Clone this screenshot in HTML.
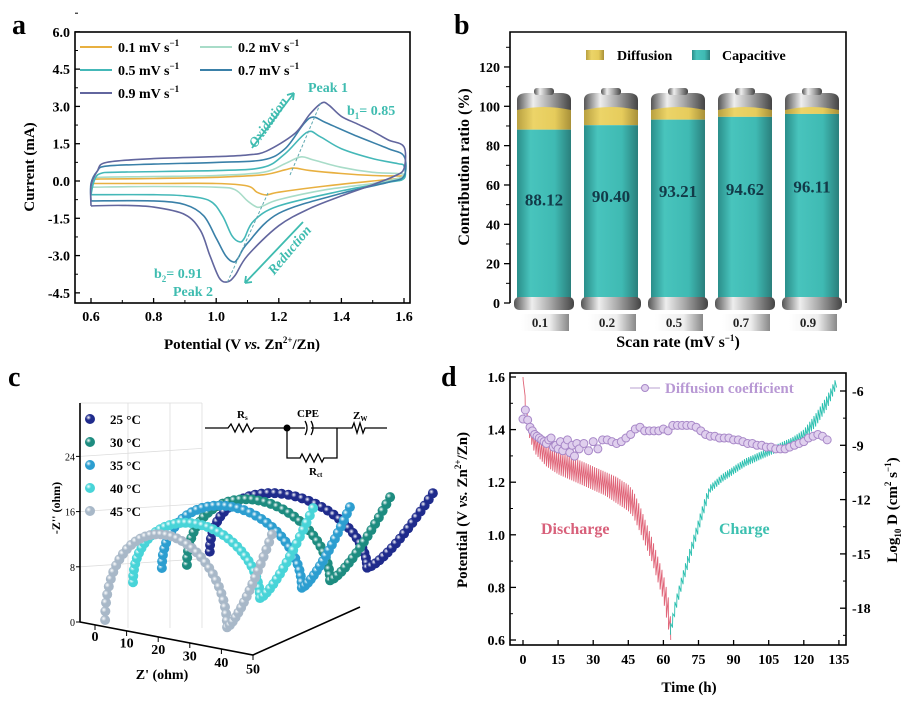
<!DOCTYPE html>
<html><head><meta charset="utf-8">
<style>
html,body{margin:0;padding:0;background:#fff;}
svg{display:block;font-family:"Liberation Serif",serif;font-weight:bold;}
</style></head>
<body>
<svg id="fig" width="912" height="706" viewBox="0 0 912 706" xmlns="http://www.w3.org/2000/svg">
<defs>
<linearGradient id="gTeal" x1="0" x2="1"><stop offset="0" stop-color="#2a8e8a"/><stop offset="0.25" stop-color="#48c4bd"/><stop offset="0.7" stop-color="#3fbab3"/><stop offset="1" stop-color="#2a7f7c"/></linearGradient>
<linearGradient id="gYel" x1="0" x2="1"><stop offset="0" stop-color="#b8a040"/><stop offset="0.3" stop-color="#ecd468"/><stop offset="0.7" stop-color="#e6cc5c"/><stop offset="1" stop-color="#a89038"/></linearGradient>
<linearGradient id="gMetal" x1="0" x2="1"><stop offset="0" stop-color="#555"/><stop offset="0.3" stop-color="#eee"/><stop offset="0.6" stop-color="#aaa"/><stop offset="1" stop-color="#444"/></linearGradient>
<linearGradient id="gLab" x1="0" x2="1"><stop offset="0" stop-color="#fff"/><stop offset="0.6" stop-color="#eee"/><stop offset="1" stop-color="#888"/></linearGradient>
</defs>
</svg>
<script>
const NS='http://www.w3.org/2000/svg';
const svg=document.getElementById('fig');
function mk(tag,attrs,parent){const e=document.createElementNS(NS,tag);for(const k in attrs)e.setAttribute(k,attrs[k]);(parent||svg).appendChild(e);return e;}
function tx(x,y,s,attrs){const e=mk('text',Object.assign({x:x,y:y},attrs||{}));e.innerHTML=s;return e;}
function smooth(pts){let d='M'+pts[0][0].toFixed(1)+','+pts[0][1].toFixed(1);for(let i=0;i<pts.length-1;i++){const p0=pts[Math.max(i-1,0)],p1=pts[i],p2=pts[i+1],p3=pts[Math.min(i+2,pts.length-1)];const c1=[p1[0]+(p2[0]-p0[0])/6,p1[1]+(p2[1]-p0[1])/6],c2=[p2[0]-(p3[0]-p1[0])/6,p2[1]-(p3[1]-p1[1])/6];d+='C'+c1[0].toFixed(1)+','+c1[1].toFixed(1)+' '+c2[0].toFixed(1)+','+c2[1].toFixed(1)+' '+p2[0].toFixed(1)+','+p2[1].toFixed(1);}return d;}

// ================= PANEL A data =================
const cvLabels=['0.1','0.2','0.5','0.7','0.9'];
const cvColors=['#e8b040','#a8dcc8','#44b8b8','#3a80a8','#62669e'];
const cv01=[[0.6,-0.1],[0.61,0.05],[0.63,0.08],[0.8,0.1],[1.0,0.15],[1.15,0.25],[1.22,0.45],[1.25,0.52],[1.3,0.42],[1.4,0.3],[1.5,0.22],[1.58,0.2],[1.6,0.18],[1.58,0.1],[1.5,0.0],[1.35,-0.2],[1.2,-0.45],[1.16,-0.56],[1.13,-0.45],[1.1,-0.2],[1.0,-0.1],[0.8,-0.1],[0.6,-0.1]];
const cv02=[[0.6,-0.25],[0.61,0.1],[0.63,0.15],[0.8,0.18],[1.0,0.22],[1.15,0.35],[1.22,0.7],[1.27,0.97],[1.31,0.85],[1.4,0.55],[1.5,0.35],[1.58,0.3],[1.6,0.25],[1.58,0.1],[1.5,-0.1],[1.35,-0.35],[1.2,-0.75],[1.15,-1.0],[1.13,-1.05],[1.1,-0.8],[1.06,-0.35],[1.0,-0.25],[0.8,-0.22],[0.6,-0.25]];
const cv05=[[0.6,-0.55],[0.61,0.0],[0.63,0.3],[0.7,0.36],[1.0,0.42],[1.15,0.55],[1.22,1.1],[1.29,1.96],[1.33,1.8],[1.4,1.3],[1.5,0.9],[1.58,0.7],[1.6,0.6],[1.6,0.1],[1.55,-0.05],[1.4,-0.4],[1.2,-1.0],[1.12,-1.6],[1.09,-2.3],[1.075,-2.45],[1.05,-2.2],[1.02,-1.4],[0.98,-0.8],[0.9,-0.6],[0.8,-0.55],[0.6,-0.55]];
const cv07=[[0.6,-0.8],[0.6,-0.1],[0.62,0.4],[0.65,0.6],[0.8,0.68],[1.0,0.75],[1.15,0.85],[1.22,1.3],[1.28,2.3],[1.31,2.57],[1.35,2.35],[1.45,1.8],[1.55,1.3],[1.6,1.0],[1.6,0.2],[1.55,-0.05],[1.4,-0.5],[1.2,-1.3],[1.1,-2.5],[1.07,-3.1],[1.055,-3.26],[1.03,-3.0],[1.0,-2.3],[0.96,-1.4],[0.9,-0.95],[0.8,-0.8],[0.6,-0.8]];
const cv09=[[0.6,-1.0],[0.6,-0.2],[0.62,0.4],[0.65,0.75],[0.8,0.9],[1.0,0.98],[1.1,1.05],[1.16,1.2],[1.25,1.9],[1.3,2.7],[1.338,3.14],[1.36,3.05],[1.4,2.6],[1.45,2.3],[1.5,2.0],[1.55,1.65],[1.6,1.37],[1.6,0.5],[1.57,0.2],[1.5,-0.15],[1.4,-0.6],[1.3,-1.1],[1.2,-1.8],[1.1,-3.0],[1.06,-3.8],[1.035,-4.06],[1.01,-3.9],[0.98,-3.0],[0.95,-2.0],[0.9,-1.35],[0.8,-1.05],[0.7,-0.98],[0.6,-1.0]];
const cvSeries=[cv01,cv02,cv05,cv07,cv09];
const aXTicks=[0.6,0.8,1.0,1.2,1.4,1.6];
const aYTicks=[-4.5,-3.0,-1.5,0.0,1.5,3.0,4.5,6.0];

const ax=v=>91+313*(v-0.6), ay=i=>181-24.86*i;
(function(){
  const g=mk('g',{});
  
  
  let e=tx(12,34,'a',{'font-size':28}); g.appendChild(e);
   
  aYTicks.forEach(v=>{const l=mk('line',{x1:75,x2:80,y1:ay(v),y2:ay(v),stroke:'#000','stroke-width':1.3},g);
     
    const m=mk('line',{x1:75,x2:78,y1:ay(v+0.75),y2:ay(v+0.75),stroke:'#000','stroke-width':1},g);
     
    const t=tx(70,ay(v)+5,v.toFixed(1),{'font-size':14,'text-anchor':'end'}); g.appendChild(t);
     });
  aXTicks.forEach(v=>{const l=mk('line',{x1:ax(v),x2:ax(v),y1:303,y2:298,stroke:'#000','stroke-width':1.3},g);
     
    if(v<1.6){const m=mk('line',{x1:ax(v+0.1),x2:ax(v+0.1),y1:303,y2:300,stroke:'#000','stroke-width':1},g);
     }
    const t=tx(ax(v),321,v.toFixed(1),{'font-size':14,'text-anchor':'middle'}); g.appendChild(t);
     });
  e=tx(242,349,'Potential (V <tspan font-style="italic">vs.</tspan> Zn<tspan font-size="9" dy="-6">2+</tspan><tspan dy="6">/Zn)</tspan>',{'font-size':15,'text-anchor':'middle'}); g.appendChild(e);
   
  e=tx(0,0,'Current (mA)',{'font-size':15,'text-anchor':'middle',transform:'translate(34,167) rotate(-90)'}); g.appendChild(e);
   
  cvSeries.forEach((s,k)=>{const p=mk('path',{d:smooth(s.map(q=>[ax(q[0]),ay(q[1])])),fill:'none',stroke:cvColors[k],'stroke-width':1.6},g);
     });
  e=mk('line',{x1:290,y1:175,x2:321,y2:102,stroke:'#5fa8b0','stroke-width':1,'stroke-dasharray':'3,2'},g);
   
  e=mk('line',{x1:268,y1:193,x2:227,y2:283,stroke:'#5fa8b0','stroke-width':1,'stroke-dasharray':'3,2'},g);
   
  const tc='#3fbcb0';
  e=mk('path',{d:'M252,148 L294,93 M294,93 l-7,2 M294,93 l-1,7',stroke:tc,'stroke-width':1.8,fill:'none'},g);
   
  e=mk('path',{d:'M303,222 L245,283 M245,283 l7,-1 M245,283 l1,-7',stroke:tc,'stroke-width':1.8,fill:'none'},g);
   
  e=tx(0,0,'Oxidation',{'font-size':14,'font-style':'italic',fill:tc,'text-anchor':'middle',transform:'translate(272,125) rotate(-55)'}); g.appendChild(e);
   
  e=tx(0,0,'Reduction',{'font-size':14,'font-style':'italic',fill:tc,'text-anchor':'middle',transform:'translate(293,253) rotate(-50)'}); g.appendChild(e);
   
  e=tx(308,92,'Peak 1',{'font-size':14,fill:tc}); g.appendChild(e);
   
  e=tx(347,115,'b<tspan font-size="9" dy="4">1</tspan><tspan dy="-4">= 0.85</tspan>',{'font-size':14,fill:tc}); g.appendChild(e);
   
  e=tx(154,278,'b<tspan font-size="9" dy="4">2</tspan><tspan dy="-4">= 0.91</tspan>',{'font-size':14,fill:tc}); g.appendChild(e);
   
  e=tx(173,296,'Peak 2',{'font-size':14,fill:tc}); g.appendChild(e);
   
  const lp=[[80,47],[200,47],[80,70],[200,70],[80,93]];
  cvLabels.forEach((lab,k)=>{const [x,y]=lp[k];
    const l=mk('line',{x1:x,x2:x+32,y1:y,y2:y,stroke:cvColors[k],'stroke-width':2},g);
     
    const t=tx(x+38,y+5,lab+' mV s<tspan font-size="9" dy="-6">−1</tspan>',{'font-size':14}); g.appendChild(t);
     });
  e=mk('rect',{x:75,y:32,width:335,height:271,fill:'none',stroke:'#000','stroke-width':1.6},g);
   
})();

// ================= PANEL B data =================
const scanRates=['0.1','0.2','0.5','0.7','0.9'];
const capacitive=[88.12,90.40,93.21,94.62,96.11];
const bYTicks=[0,20,40,60,80,100,120];
(function(){
  const by=v=>303-1.967*v, bx=k=>544+67*k;
  const g=mk('g',{});
  
  
  let e=tx(454,34,'b',{'font-size':28}); g.appendChild(e);
   
  bYTicks.forEach(v=>{const l=mk('line',{x1:504,x2:510,y1:by(v),y2:by(v),stroke:'#000','stroke-width':1.3},g);
     
    const m=mk('line',{x1:506,x2:510,y1:by(v+10),y2:by(v+10),stroke:'#000','stroke-width':1},g);
     
    const t=tx(500,by(v)+5,String(v),{'font-size':14,'text-anchor':'end'}); g.appendChild(t);
     });
  e=mk('path',{d:'M510,303 V32 H846 V303',fill:'none',stroke:'#000','stroke-width':1.6},g);
   
  capacitive.forEach((v,k)=>{const cx=bx(k),x0=cx-27;
    const bg=mk('g',{},g);
     
    let r=mk('rect',{x:x0,y:106,width:54,height:by(v)-106,fill:'url(#gYel)'},bg);
     
    r=mk('rect',{x:x0,y:by(v),width:54,height:303-by(v),fill:'url(#gTeal)'},bg);
     
    r=mk('path',{d:`M${x0},110 V100 Q${x0},93 ${x0+10},93 H${x0+44} Q${x0+54},93 ${x0+54},100 V110 Q${cx},104 ${x0},110Z`,fill:'url(#gMetal)'},bg);
     
    r=mk('rect',{x:cx-10,y:88,width:20,height:7,rx:3,fill:'url(#gMetal)'},bg);
     
    r=mk('rect',{x:x0-3,y:297,width:60,height:13,rx:5,fill:'url(#gMetal)'},bg);
     
    r=mk('rect',{x:x0+4,y:314,width:48,height:17,fill:'url(#gLab)'},bg);
     
    let t=tx(cx-4,327,scanRates[k],{'font-size':13,'text-anchor':'middle',fill:'#222'}); bg.appendChild(t);
     
    t=tx(cx,by(v)+76+(v-88)*0.3,v.toFixed(2),{'font-size':17,'text-anchor':'middle',fill:'#123a48'}); bg.appendChild(t);
     
  });
  e=mk('rect',{x:586,y:50,width:18,height:10,fill:'url(#gYel)'},g);
   
  e=tx(617,60,'Diffusion',{'font-size':14}); g.appendChild(e);
   
  e=mk('rect',{x:692,y:50,width:18,height:10,fill:'url(#gTeal)'},g);
   
  e=tx(722,60,'Capacitive',{'font-size':14}); g.appendChild(e);
   
  e=tx(678,347,'Scan rate (mV s<tspan font-size="9" dy="-6">−1</tspan><tspan dy="6">)</tspan>',{'font-size':16,'text-anchor':'middle'}); g.appendChild(e);
   
  e=tx(0,0,'Contribution ratio (%)',{'font-size':16,'text-anchor':'middle',transform:'translate(469,167) rotate(-90)'}); g.appendChild(e);
   
})();

// ================= PANEL C data =================
const temps=['45','40','35','30','25'];
const tempColors=['#a8b8c8','#48d4d8','#2c9ed0','#1d8c80','#1f2b8c'];
const depth=[0,1,2,3,4];
const rsOhm=[3.2,5.7,8.5,10.1,11.0];
const valleyOhm=[41.8,45.9,52.8,55.4,60.8];
const startZi=[1,3.8,3.2,0.9,0];
const valleyZi=[3.3,5,4.2,2.6,2];
const peakZi=[15,14,14,12.2,10.4];
const tailZ=[56,62.7,68,74.4,81.6];
const tailZi=[18,19.5,17.2,16.3,14.6];
const cZTicks=[0,10,20,30,40,50];
const cZiTicks=[0,8,16,24];
(function(){
  const px=(zr,zi,d)=>95+3.16*zr+20*d, py=(zr,zi,d)=>625+0.6*zr-6.9*zi-20*d;
  const g=mk('g',{});
  
  
  const defs=svg.querySelector('defs');
  tempColors.forEach((c,k)=>{const rg=mk('radialGradient',{id:'sph'+k,cx:'0.35',cy:'0.35',r:'0.65'},defs);
    mk('stop',{offset:'0','stop-color':'#fff'},rg);mk('stop',{offset:'0.4','stop-color':c},rg);mk('stop',{offset:'1','stop-color':c},rg);});
  let e=tx(8,386,'c',{'font-size':28}); g.appendChild(e);
   
  [128,170,202].forEach(x=>{const l=mk('line',{x1:x,x2:x,y1:403,y2:628,stroke:'#ddd','stroke-width':0.8},g);
     });
  const zy=v=>622-v*6.9;
  cZiTicks.forEach(v=>{if(v>0){const l=mk('line',{x1:80,x2:202,y1:zy(v),y2:zy(v)-8,stroke:'#ddd','stroke-width':0.8},g);
     }
    const t=mk('line',{x1:76,x2:80,y1:zy(v),y2:zy(v),stroke:'#000'},g);
     
    const tl=tx(75,zy(v)+4,String(v),{'font-size':10,'text-anchor':'end','font-weight':'normal'}); g.appendChild(tl);
     });
  e=mk('line',{x1:80,y1:403,x2:202,y2:403,stroke:'#ddd','stroke-width':0.8},g);
   
  e=mk('path',{d:'M80,403 V622 L253,655 L360,607',fill:'none',stroke:'#000','stroke-width':1.6},g);
   
  cZTicks.forEach(v=>{const x=95+3.16*v,y=625+0.6*v;
    const t=mk('line',{x1:x,x2:x,y1:y,y2:y+5,stroke:'#000'},g);
     
    const tl=tx(x,y+16+v*0.05,String(v),{'font-size':14,'text-anchor':'middle'}); g.appendChild(tl);
     });
  e=tx(162,679,"Z' (ohm)",{'font-size':14,'text-anchor':'middle'}); g.appendChild(e);
   
  e=tx(0,0,"-Z'' (ohm)",{'font-size':12,'text-anchor':'middle',transform:'translate(60,508) rotate(-90)'}); g.appendChild(e);
   
  for(let k=temps.length-1;k>=0;k--){
    const sg=mk('g',{},g);
     
    const pts=[];const N=36;
    for(let j=0;j<=N;j++){const t=Math.PI*j/N;const zr=rsOhm[k]+(valleyOhm[k]-rsOhm[k])*(1-Math.cos(t))/2;
      const base=startZi[k]+(valleyZi[k]-startZi[k])*j/N;const zi=base+(peakZi[k]-base)*Math.sin(t);pts.push([zr,zi]);}
    for(let j=1;j<=16;j++){const f=j/16;pts.push([valleyOhm[k]+(tailZ[k]-valleyOhm[k])*f,valleyZi[k]+(tailZi[k]-valleyZi[k])*Math.pow(f,1.3)]);}
    pts.forEach(p=>{const c=mk('circle',{cx:px(p[0],p[1],depth[k]),cy:py(p[0],p[1],depth[k]),r:5,fill:'url(#sph'+k+')'},sg);
       });
  }
  [4,3,2,1,0].forEach((k,i)=>{const y=419+23*i;
    const c=mk('circle',{cx:90,cy:y,r:5,fill:'url(#sph'+k+')'},g);
     
    const t=tx(110,y+5,temps[k]+' °C',{'font-size':13}); g.appendChild(t);
     });
  e=mk('path',{d:'M205,428 H228 l3,-4 l4,8 l4,-8 l4,8 l4,-8 l4,8 l3,-4 H287 H305 M305,421 q4,7 0,14 M311,421 q4,7 0,14 M311,428 H337 H352 l2,-5 l3,10 l3,-10 l3,10 l2,-5 H387 M287,428 V458 H300 l2,-4 l4,8 l4,-8 l4,8 l4,-8 l4,8 l2,-4 H337 V428',fill:'none',stroke:'#000','stroke-width':1.3},g);
   
  e=mk('circle',{cx:287,cy:428,r:3.5,fill:'#000'},g);
   
  e=tx(237,418,'R<tspan font-size="7" dy="2">s</tspan>',{'font-size':11}); g.appendChild(e);
   
  e=tx(297,417,'CPE',{'font-size':11}); g.appendChild(e);
   
  e=tx(353,419,'Z<tspan font-size="7" dy="2">W</tspan>',{'font-size':11}); g.appendChild(e);
   
  e=tx(309,475,'R<tspan font-size="7" dy="2">ct</tspan>',{'font-size':11}); g.appendChild(e);
   
})();

// ================= PANEL D data =================
const dischargeT=[0,1,2,3,5,8,10,15,20,25,30,35,40,45,47,50,55,60,62,63];
const dischargeUp=[1.6,1.52,1.46,1.42,1.39,1.36,1.34,1.32,1.30,1.28,1.26,1.24,1.22,1.19,1.17,1.11,0.99,0.85,0.77,0.69];
const dischargeLow=[1.6,1.47,1.40,1.36,1.31,1.28,1.26,1.23,1.21,1.19,1.17,1.15,1.12,1.09,1.07,1.01,0.90,0.75,0.65,0.60];
const chargeT=[63,64,65,68,70,75,78,80,85,90,95,100,105,110,115,120,125,130,134];
const chargeLow=[0.62,0.65,0.70,0.80,0.86,1.01,1.10,1.16,1.20,1.23,1.26,1.28,1.30,1.32,1.34,1.36,1.41,1.48,1.56];
const chargeUp=[0.66,0.70,0.75,0.85,0.91,1.06,1.15,1.19,1.23,1.26,1.29,1.31,1.33,1.35,1.37,1.40,1.46,1.53,1.60];
const diffT=[0,1,2,3,4,5,6,7,8,9,10,11,12,13,14,15,16,17,18,19,20,21,22,23,24,26,28,30,32,34,36,38,40,42,44,46,48,50,52,54,56,58,60,62,64,66,68,70,72,74,76,78,80,82,84,86,88,90,92,94,96,98,100,102,104,106,108,110,112,114,116,118,120,122,124,126,128,130];
const diffLogD=[-7.55,-7.05,-7.6,-8.0,-8.2,-8.4,-8.5,-8.6,-8.7,-8.8,-8.9,-8.7,-8.6,-9.1,-9.0,-9.2,-8.8,-9.3,-9.0,-8.7,-9.4,-9.0,-9.6,-8.9,-9.2,-8.9,-9.3,-8.8,-9.2,-8.7,-8.7,-8.8,-8.9,-8.8,-8.6,-8.4,-8.1,-8.0,-8.2,-8.2,-8.2,-8.2,-8.1,-8.2,-7.9,-7.9,-7.9,-7.9,-7.9,-8.0,-8.2,-8.4,-8.5,-8.5,-8.6,-8.6,-8.6,-8.7,-8.7,-8.8,-8.9,-8.9,-9.0,-9.0,-9.1,-9.1,-9.2,-9.2,-9.2,-9.1,-9.0,-8.9,-8.8,-8.6,-8.5,-8.4,-8.5,-8.7];
const dXTicks=[0,15,30,45,60,75,90,105,120,135];
const dYTicks=[0.6,0.8,1.0,1.2,1.4,1.6];
const dY2Ticks=[-6,-9,-12,-15,-18];
(function(){
  const dx=t=>523+2.34*t, dy=v=>640-263*(v-0.6), dy2=v=>391+18.1*(-6-v);
  const interp=(T,A,t)=>{for(let i=0;i<T.length-1;i++){if(t<=T[i+1]){const f=(t-T[i])/(T[i+1]-T[i]);return A[i]+(A[i+1]-A[i])*f;}}return A[A.length-1];};
  const g=mk('g',{});
  
  
  let e=tx(441,386,'d',{'font-size':28}); g.appendChild(e);
   
  dYTicks.forEach(v=>{const l=mk('line',{x1:510,x2:516,y1:dy(v),y2:dy(v),stroke:'#000','stroke-width':1.3},g);
     
    if(v<1.6){const m=mk('line',{x1:510,x2:513,y1:dy(v+0.1),y2:dy(v+0.1),stroke:'#000'},g);
     }
    const t=tx(505,dy(v)+5,v.toFixed(1),{'font-size':14,'text-anchor':'end'}); g.appendChild(t);
     });
  dY2Ticks.forEach(v=>{const l=mk('line',{x1:840,x2:846,y1:dy2(v),y2:dy2(v),stroke:'#000','stroke-width':1.3},g);
     
    const m=mk('line',{x1:843,x2:846,y1:dy2(v-1.5),y2:dy2(v-1.5),stroke:'#000'},g);
     
    const t=tx(852,dy2(v)+5,String(v),{'font-size':14}); g.appendChild(t);
     });
  dXTicks.forEach(v=>{const l=mk('line',{x1:dx(v),x2:dx(v),y1:645,y2:640,stroke:'#000','stroke-width':1.3},g);
     
    const t=tx(dx(v),664,String(v),{'font-size':14,'text-anchor':'middle'}); g.appendChild(t);
     });
  e=tx(689,692,'Time (h)',{'font-size':15,'text-anchor':'middle'}); g.appendChild(e);
   
  e=tx(0,0,'Potential (V <tspan font-style="italic">vs.</tspan> Zn<tspan font-size="9" dy="-6">2+</tspan><tspan dy="6">/Zn)</tspan>',{'font-size':15,'text-anchor':'middle',transform:'translate(467,510) rotate(-90)'}); g.appendChild(e);
   
  e=tx(0,0,'Log<tspan font-size="9" dy="4">10</tspan><tspan dy="-4"> D (cm</tspan><tspan font-size="9" dy="-6">2</tspan><tspan dy="6"> s</tspan><tspan font-size="9" dy="-6">−1</tspan><tspan dy="6">)</tspan>',{'font-size':15,'text-anchor':'middle',transform:'translate(897,510) rotate(-90)'}); g.appendChild(e);
   
  function saw(T,U,L,color,name){let d='';const t0=T[0],t1=T[T.length-1];
    for(let t=t0;t<t1;t+=0.9){const u=interp(T,U,t),l=interp(T,L,t+0.1),u2=interp(T,U,Math.min(t+0.9,t1));
      d+=(d?'L':'M')+dx(t).toFixed(1)+','+dy(u).toFixed(1)+'L'+dx(t+0.1).toFixed(1)+','+dy(l).toFixed(1)+'L'+dx(Math.min(t+0.9,t1)).toFixed(1)+','+dy(u2).toFixed(1);}
    const p=mk('path',{d:d,fill:'none',stroke:color,'stroke-width':0.9},g);
     }
  saw(dischargeT,dischargeUp,dischargeLow,'#e06478','discharge-curve');
  saw(chargeT,chargeLow,chargeUp,'#2cc0b0','charge-curve');
  e=mk('polyline',{points:diffT.map((t,i)=>dx(t).toFixed(1)+','+dy2(diffLogD[i]).toFixed(1)).join(' '),fill:'none',stroke:'#c0a8d8','stroke-width':1},g);
   
  diffT.forEach((t,i)=>{const c=mk('circle',{cx:dx(t),cy:dy2(diffLogD[i]),r:4,fill:'#e0d0ee',stroke:'#a888c8','stroke-width':1},g);
     });
  e=mk('line',{x1:630,x2:660,y1:388,y2:388,stroke:'#b8a0d0','stroke-width':1},g);
   
  e=mk('circle',{cx:645,cy:388,r:3.5,fill:'#e0d0ee',stroke:'#a888c8'},g);
   
  e=tx(665,393,'Diffusion coefficient',{'font-size':15,fill:'#b898d4'}); g.appendChild(e);
   
  e=tx(541,534,'Discharge',{'font-size':16,fill:'#d8607a'}); g.appendChild(e);
   
  e=tx(719,534,'Charge',{'font-size':16,fill:'#3cc0b0'}); g.appendChild(e);
   
  e=mk('rect',{x:510,y:373,width:336,height:272,fill:'none',stroke:'#000','stroke-width':1.6},g);
   
})();
</script>
</body></html>
